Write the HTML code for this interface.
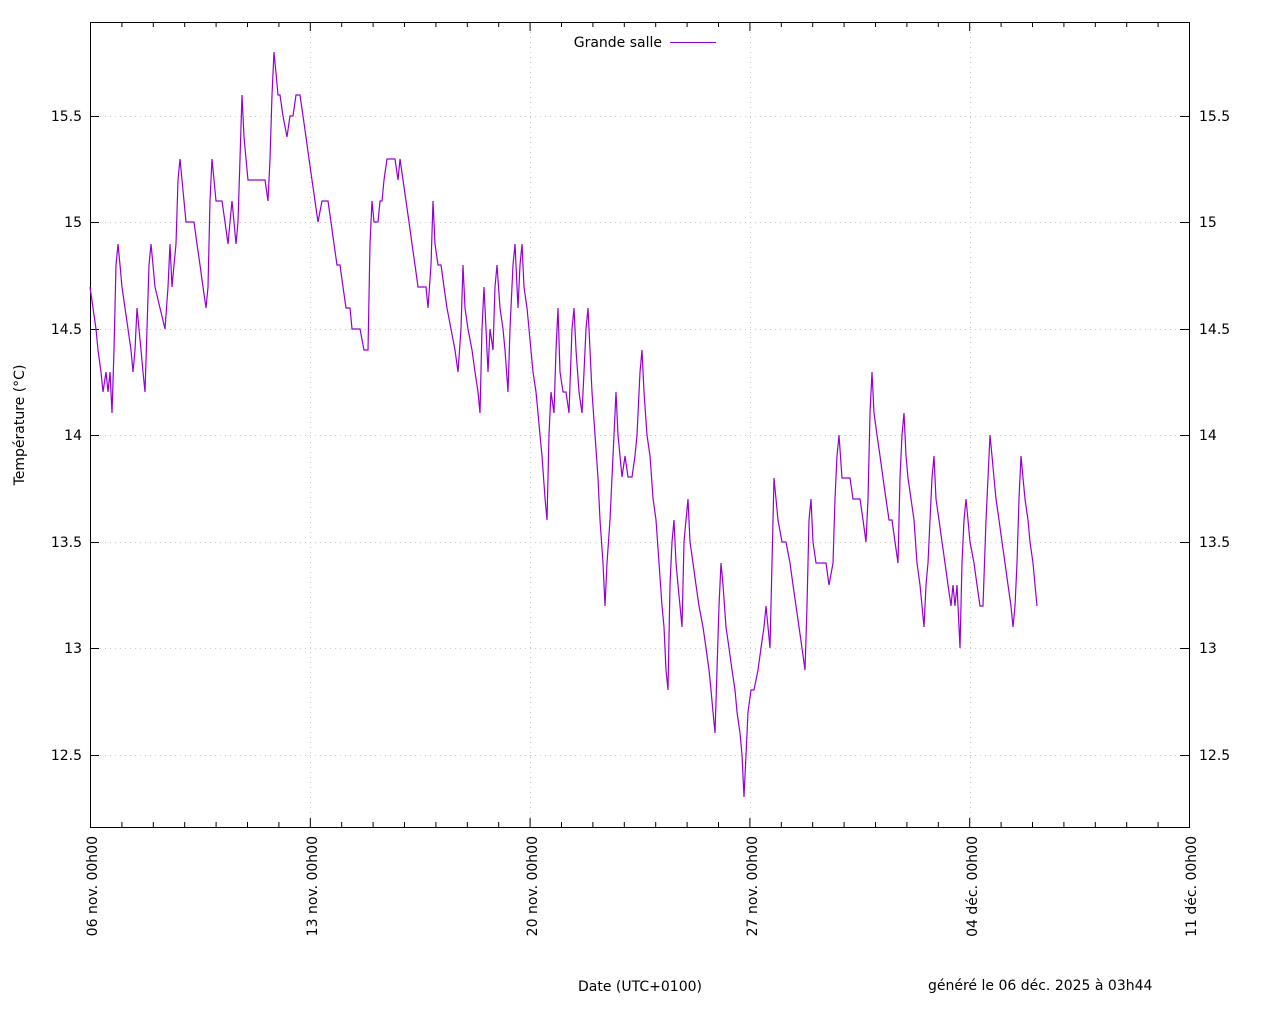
<!DOCTYPE html>
<html><head><meta charset="utf-8"><style>
html,body{margin:0;padding:0;background:#fff}
svg{display:block;font-family:"DejaVu Sans","Liberation Sans",sans-serif;font-size:14px}
</style></head><body>
<svg width="1280" height="1024" viewBox="0 0 1280 1024" xmlns="http://www.w3.org/2000/svg">
<rect width="1280" height="1024" fill="#fff"/>
<g stroke="#c8c8c8" stroke-width="1" stroke-dasharray="1,4">
<line x1="90" y1="116.5" x2="1189" y2="116.5"/><line x1="90" y1="222.5" x2="1189" y2="222.5"/>
<line x1="90" y1="329.5" x2="1189" y2="329.5"/><line x1="90" y1="435.5" x2="1189" y2="435.5"/>
<line x1="90" y1="542.5" x2="1189" y2="542.5"/><line x1="90" y1="648.5" x2="1189" y2="648.5"/>
<line x1="90" y1="755.5" x2="1189" y2="755.5"/>
<line x1="310.5" y1="22" x2="310.5" y2="827"/><line x1="530.5" y1="22" x2="530.5" y2="827"/>
<line x1="750.5" y1="22" x2="750.5" y2="827"/><line x1="970.5" y1="22" x2="970.5" y2="827"/>
</g>
<rect x="90.5" y="22.5" width="1099" height="805" fill="none" stroke="#000" stroke-width="1"/>
<path stroke="#000" stroke-width="1" fill="none" d="
M90 116.5h9M90 222.5h9M90 329.5h9M90 435.5h9M90 542.5h9M90 648.5h9M90 755.5h9
M1180 116.5h9M1180 222.5h9M1180 329.5h9M1180 435.5h9M1180 542.5h9M1180 648.5h9M1180 755.5h9
M310.3 827v-9M530.1 827v-9M749.9 827v-9M969.7 827v-9
M310.3 22v9M530.1 22v9M749.9 22v9M969.7 22v9
M121.9 827v-5M153.3 827v-5M184.7 827v-5M216.1 827v-5M247.5 827v-5M278.9 827v-5
M341.7 827v-5M373.1 827v-5M404.5 827v-5M435.9 827v-5M467.3 827v-5M498.7 827v-5
M561.5 827v-5M592.9 827v-5M624.3 827v-5M655.7 827v-5M687.1 827v-5M718.5 827v-5
M781.3 827v-5M812.7 827v-5M844.1 827v-5M875.5 827v-5M906.9 827v-5M938.3 827v-5
M1001.1 827v-5M1032.5 827v-5M1063.9 827v-5M1095.3 827v-5M1126.7 827v-5M1158.1 827v-5
M121.9 22v5M153.3 22v5M184.7 22v5M216.1 22v5M247.5 22v5M278.9 22v5
M341.7 22v5M373.1 22v5M404.5 22v5M435.9 22v5M467.3 22v5M498.7 22v5
M561.5 22v5M592.9 22v5M624.3 22v5M655.7 22v5M687.1 22v5M718.5 22v5
M781.3 22v5M812.7 22v5M844.1 22v5M875.5 22v5M906.9 22v5M938.3 22v5
M1001.1 22v5M1032.5 22v5M1063.9 22v5M1095.3 22v5M1126.7 22v5M1158.1 22v5"/>
<g fill="#000">
<g text-anchor="end">
<text x="82" y="121">15.5</text><text x="82" y="227">15</text><text x="82" y="334">14.5</text>
<text x="82" y="440">14</text><text x="82" y="547">13.5</text><text x="82" y="653">13</text><text x="82" y="760">12.5</text>
</g>
<g>
<text x="1199" y="121">15.5</text><text x="1199" y="227">15</text><text x="1199" y="334">14.5</text>
<text x="1199" y="440">14</text><text x="1199" y="547">13.5</text><text x="1199" y="653">13</text><text x="1199" y="760">12.5</text>
</g>
<g text-anchor="end">
<text transform="translate(97,836) rotate(-90)">06 nov. 00h00</text>
<text transform="translate(317,836) rotate(-90)">13 nov. 00h00</text>
<text transform="translate(537,836) rotate(-90)">20 nov. 00h00</text>
<text transform="translate(757,836) rotate(-90)">27 nov. 00h00</text>
<text transform="translate(977,836) rotate(-90)">04 déc. 00h00</text>
<text transform="translate(1196,836) rotate(-90)">11 déc. 00h00</text>
</g>
<text transform="translate(24,425) rotate(-90)" text-anchor="middle">Température (°C)</text>
<text x="640" y="991" text-anchor="middle">Date (UTC+0100)</text>
<text x="928" y="990">généré le 06 déc. 2025 à 03h44</text>
<text x="662" y="47" text-anchor="end">Grande salle</text>
</g>
<line x1="670" y1="42.5" x2="716" y2="42.5" stroke="#9400d3" stroke-width="1"/>
<polyline fill="none" stroke="#9400d3" stroke-width="1.2" stroke-linejoin="miter" points="90,287 93,308 96,329 98,350 101,372 103,392 106,372 108,392 110,372 112,413 114,350 116,265 118,244 120,265 122,287 125,308 128,329 131,350 133,372 135,350 137,308 139,329 141,350 143,372 145,392 147,329 149,265 151,244 153,265 155,287 160,308 165,329 168,287 170,244 172,287 174,265 176,244 178,180 180,159 182,180 184,201 186,222 190,222 194,222 197,244 200,265 203,287 206,308 208,287 210,201 212,159 214,180 216,201 222,201 225,222 228,244 230,222 232,201 234,222 236,244 238,222 240,159 242,95 244,137 246,159 248,180 255,180 265,180 268,201 270,159 272,95 274,52 276,73 278,95 280,95 283,116 287,137 290,116 293,116 296,95 300,95 303,116 306,137 309,159 312,180 315,201 318,222 322,201 328,201 331,222 334,244 337,265 340,265 343,287 346,308 350,308 352,329 360,329 364,350 368,350 370,244 372,201 374,222 378,222 380,201 382,201 384,180 387,159 395,159 398,180 400,159 403,180 406,201 409,222 412,244 415,265 418,287 426,287 428,308 431,265 433,201 435,244 438,265 441,265 444,287 447,308 451,329 455,350 458,372 461,329 463,265 465,308 468,329 472,350 475,372 478,392 480,413 482,329 484,287 486,329 488,372 490,329 493,350 495,287 497,265 500,308 503,329 505,350 508,392 510,329 513,265 515,244 518,308 520,265 522,244 524,287 527,308 529,329 533,372 536,392 538,413 540,435 542,456 545,498 547,520 549,435 551,392 554,413 556,350 558,308 560,372 563,392 566,392 569,413 572,329 574,308 576,350 579,392 582,413 584,372 586,329 588,308 590,350 592,392 595,435 598,478 600,520 603,563 605,606 607,563 610,520 612,477 614,435 616,392 618,435 620,456 622,477 625,456 628,477 632,477 635,456 637,435 640,372 642,350 644,392 647,435 650,456 653,498 656,520 659,563 662,606 664,627 666,670 668,690 670,585 672,542 674,520 676,563 678,585 680,606 682,627 684,542 686,520 688,499 690,542 693,563 696,585 699,606 703,627 706,648 709,670 711,690 713,712 715,733 717,670 719,606 721,563 723,585 726,627 729,648 732,670 735,690 737,712 740,733 742,755 744,797 746,755 748,712 751,690 754,690 758,670 761,648 764,627 766,606 768,627 770,648 772,563 774,478 776,499 778,520 782,542 786,542 790,563 793,585 796,606 799,627 802,648 805,670 807,606 809,520 811,499 813,542 816,563 822,563 826,563 829,585 833,563 835,499 837,456 839,435 842,478 846,478 850,478 853,499 856,499 860,499 863,520 866,542 868,499 870,413 872,372 874,413 877,435 880,456 883,478 886,499 889,520 892,520 895,542 898,563 900,478 902,435 904,413 906,456 908,478 911,499 914,520 917,563 920,585 922,606 924,627 926,585 928,563 930,520 932,478 934,456 936,499 939,520 942,542 945,563 948,585 951,606 953,585 955,606 957,585 960,648 962,563 964,520 966,499 968,520 970,542 974,563 977,585 980,606 983,606 986,520 988,478 990,435 992,456 994,478 996,499 999,520 1002,542 1005,563 1008,585 1011,606 1013,627 1015,606 1017,563 1019,499 1021,456 1023,478 1025,499 1028,520 1030,542 1033,563 1035,585 1037,606"/>
</svg>
</body></html>
